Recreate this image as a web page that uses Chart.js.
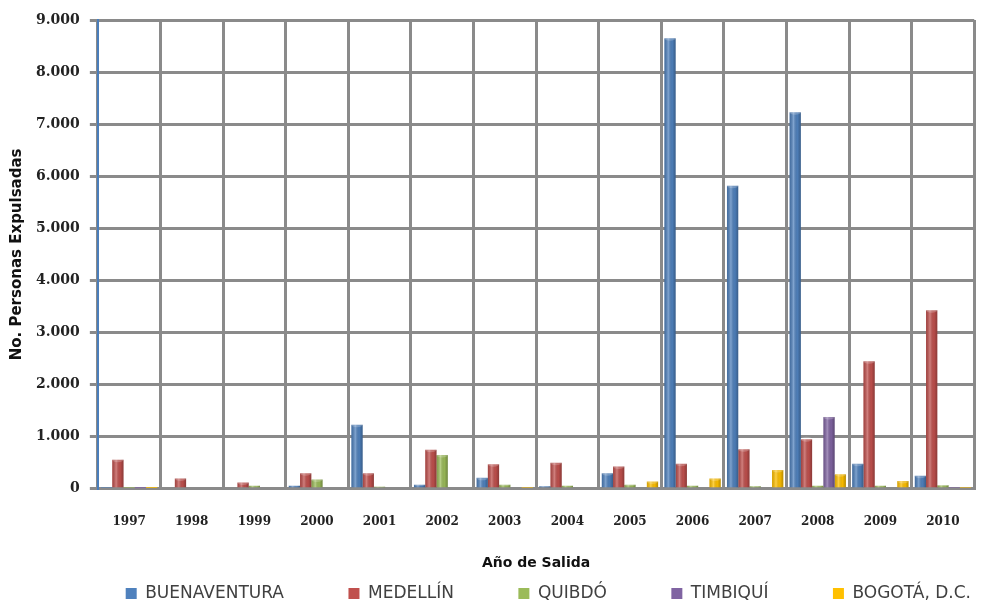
<!DOCTYPE html>
<html>
<head>
<meta charset="utf-8">
<script src="https://cdn.jsdelivr.net/npm/chart.js@4.4.1/dist/chart.umd.min.js"></script>
<style>
  html, body { margin: 0; padding: 0; background: #fff; }
  #wrap { width: 986px; height: 612px; position: relative; }
</style>
</head>
<body>
<div id="wrap"><canvas id="chart"></canvas></div>
<script>
// datos
const years = ['1997', '1998', '1999', '2000', '2001', '2002', '2003', '2004', '2005', '2006', '2007', '2008', '2009', '2010'];
const buenaventura = [20, 0, 30, 60, 1230, 80, 210, 50, 300, 8650, 5820, 7230, 480, 250];
const medellin = [560, 200, 120, 300, 300, 750, 470, 500, 430, 480, 760, 950, 2450, 3430];
const quibdo = [20, 0, 60, 180, 40, 650, 80, 60, 80, 60, 50, 60, 60, 70];
const timbiqui = [10, 0, 0, 0, 0, 30, 0, 0, 0, 0, 0, 1380, 0, 20];
const bogota = [15, 0, 30, 0, 0, 30, 20, 30, 140, 200, 360, 280, 150, 20];
const yTicks = [0, 1000, 2000, 3000, 4000, 5000, 6000, 7000, 8000, 9000];

const COLORS = ['#4F81BD', '#C0504D', '#9BBB59', '#8064A2', '#FFC000'];

function fmtMiles(v) {
    return String(v).replace(/\B(?=(\d{3})+(?!\d))/g, '.');
}

// efecto cilindro sobre las barras
const cylinderPlugin = {
    id: 'cylinder',
    afterDatasetsDraw(chart) {
        const ctx = chart.ctx;
        chart.data.datasets.forEach((ds, i) => {
            const meta = chart.getDatasetMeta(i);
            meta.data.forEach(bar => {
                const h = bar.base - bar.y;
                if (h <= 0.5) return;
                const w = bar.width;
                const x0 = bar.x - w / 2;
                const g = ctx.createLinearGradient(x0, 0, x0 + w, 0);
                g.addColorStop(0, 'rgba(0,0,0,0.15)');
                g.addColorStop(0.35, 'rgba(255,255,255,0.28)');
                g.addColorStop(0.7, 'rgba(0,0,0,0.04)');
                g.addColorStop(1, 'rgba(0,0,0,0.28)');
                ctx.save();
                ctx.fillStyle = g;
                ctx.fillRect(x0, bar.y, w, h);
                ctx.beginPath();
                ctx.ellipse(bar.x, bar.y, w / 2, Math.min(2.5, h / 2), 0, 0, Math.PI * 2);
                ctx.fillStyle = 'rgba(255,255,255,0.22)';
                ctx.fill();
                ctx.restore();
            });
        });
    }
};

const series = [
    { label: 'BUENAVENTURA', data: buenaventura },
    { label: 'MEDELLÍN', data: medellin },
    { label: 'QUIBDÓ', data: quibdo },
    { label: 'TIMBIQUÍ', data: timbiqui },
    { label: 'BOGOTÁ, D.C.', data: bogota }
];

new Chart(document.getElementById('chart'), {
    type: 'bar',
    data: {
        labels: years,
        datasets: series.map((s, i) => ({
            label: s.label,
            data: s.data,
            backgroundColor: COLORS[i],
            borderColor: COLORS[i],
            borderWidth: 0,
            barPercentage: 1.0,
            categoryPercentage: 0.9
        }))
    },
    options: {
        responsive: true,
        maintainAspectRatio: false,
        animation: false,
        layout: { padding: { left: 8, right: 10, top: 20, bottom: 0 } },
        plugins: {
            tooltip: { enabled: false },
            legend: {
                position: 'bottom',
                align: 'end',
                labels: {
                    font: { family: 'DejaVu Sans', size: 17 },
                    color: '#404040',
                    boxWidth: 11,
                    boxHeight: 11,
                    padding: 5,
                    generateLabels(chart) {
                        const items = Chart.defaults.plugins.legend.labels.generateLabels(chart);
                        items.forEach((it, i) => {
                            it.lineWidth = 0;
                            if (i < items.length - 1) it.text = it.text + '\u2003\u2003\u2003\u2002';
                        });
                        return items;
                    }
                }
            }
        },
        scales: {
            x: {
                grid: { color: '#8a8a8a', lineWidth: 3, offset: true, drawTicks: false },
                border: { color: '#8a8a8a', width: 3 },
                ticks: {
                    font: { family: 'DejaVu Serif', size: 12, weight: 'bold' },
                    color: '#222',
                    padding: 26
                },
                title: {
                    display: true,
                    text: 'Año de Salida',
                    font: { family: 'DejaVu Sans', size: 14, weight: 'bold' },
                    color: '#111',
                    padding: { top: 0, bottom: 8 }
                }
            },
            y: {
                min: 0,
                max: 9000,
                afterBuildTicks(axis) {
                    axis.ticks = yTicks.map(v => ({ value: v }));
                },
                grid: { color: '#8a8a8a', lineWidth: 3, drawTicks: true, tickLength: 8 },
                border: { color: '#4A7EBB', width: 2 },
                ticks: {
                    font: { family: 'DejaVu Serif', size: 14, weight: 'bold' },
                    color: '#222',
                    padding: 10,
                    callback: v => fmtMiles(v)
                },
                title: {
                    display: true,
                    text: 'No. Personas Expulsadas',
                    font: { family: 'DejaVu Sans', size: 15, weight: 'bold' },
                    color: '#111',
                    padding: { top: 0, bottom: 0 }
                }
            }
        }
    },
    plugins: [cylinderPlugin]
});
</script>
</body>
</html>
